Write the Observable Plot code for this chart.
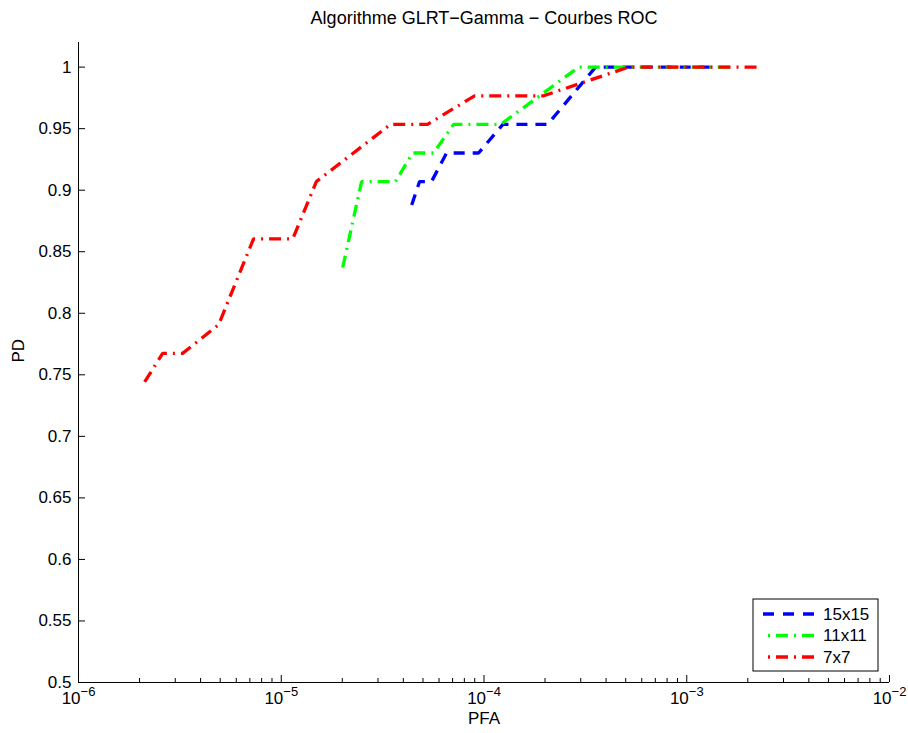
<!DOCTYPE html>
<html><head><meta charset="utf-8">
<script src="https://cdn.jsdelivr.net/npm/d3@7"></script>
<script src="https://cdn.jsdelivr.net/npm/@observablehq/plot@0.6"></script>
<style>
body{margin:0;background:#fff}
svg{font-family:"Liberation Sans",Arial,Helvetica,sans-serif}
</style>
</head><body><div id="chart"></div>
<script>
// ---- data ----
const title = "Algorithme GLRT\u2212Gamma \u2212 Courbes ROC";
const xLabel = "PFA";
const yLabel = "PD";
const seriesNames = ["15x15", "11x11", "7x7"];
const seriesColors = ["#0000ff", "#00ff00", "#ff0000"];

const pfa15 = [4.40e-5, 4.81e-5, 5.51e-5, 6.54e-5, 9.40e-5, 1.24e-4, 2.06e-4, 3.55e-4, 1.39e-3];
const pd15  = [0.888, 0.9070, 0.9070, 0.9302, 0.9302, 0.9535, 0.9535, 1, 1];

const pfa11 = [2.01e-5, 2.49e-5, 3.66e-5, 4.44e-5, 5.64e-5, 7.08e-5, 1.21e-4, 2.93e-4, 1.65e-3];
const pd11  = [0.8372, 0.9070, 0.9070, 0.9302, 0.9302, 0.9535, 0.9535, 1, 1];

const pfa7 = [2.12e-6, 2.60e-6, 3.26e-6, 4.91e-6, 7.30e-6, 1.14e-5, 1.49e-5, 3.46e-5, 5.27e-5, 8.99e-5, 1.97e-4, 5.16e-4, 2.24e-3];
const pd7  = [0.7442, 0.7674, 0.7674, 0.7907, 0.8605, 0.8605, 0.9070, 0.9535, 0.9535, 0.9767, 0.9767, 1, 1];

const xTicks = [1e-6, 1e-5, 1e-4, 1e-3, 1e-2];
const xTickLabels = ["10^-6", "10^-5", "10^-4", "10^-3", "10^-2"];
const yTicks = [0.5, 0.55, 0.6, 0.65, 0.7, 0.75, 0.8, 0.85, 0.9, 0.95, 1];
const yTickLabels = ["0.5", "0.55", "0.6", "0.65", "0.7", "0.75", "0.8", "0.85", "0.9", "0.95", "1"];

// ---- build ----
const toRows = (xs, ys, name) => xs.map((x, i) => ({pfa: x, pd: ys[i], name}));
const d15 = toRows(pfa15, pd15, seriesNames[0]);
const d11 = toRows(pfa11, pd11, seriesNames[1]);
const d7  = toRows(pfa7, pd7, seriesNames[2]);

const minorTicks = [];
for (let e = -6; e < -2; e++) for (let m = 2; m <= 9; m++) minorTicks.push(m * Math.pow(10, e));

const W = 908, H = 733, mL = 78, mR = 19, mT = 42, mB = 51;
const plotW = W - mL - mR, plotH = H - mT - mB;
const FS = 17;
const LW = 3.3;
const dashDot = "12,6,2,6";

const chart = Plot.plot({
  width: W, height: H,
  marginLeft: mL, marginRight: mR, marginTop: mT, marginBottom: mB,
  style: {fontFamily: '"Liberation Sans",Arial,Helvetica,sans-serif', fontSize: FS + "px", background: "white", color: "black", overflow: "visible"},
  x: {type: "log", domain: [1e-6, 1e-2]},
  y: {domain: [0.5, 1.02]},
  marks: [
    Plot.line(d15, {x: "pfa", y: "pd", stroke: seriesColors[0], strokeWidth: LW, strokeDasharray: "11,8", strokeLinecap: "butt", strokeLinejoin: "miter"}),
    Plot.line(d11, {x: "pfa", y: "pd", stroke: seriesColors[1], strokeWidth: LW, strokeDasharray: dashDot, strokeLinecap: "butt", strokeLinejoin: "miter"}),
    Plot.line(d7,  {x: "pfa", y: "pd", stroke: seriesColors[2], strokeWidth: LW, strokeDasharray: dashDot, strokeLinecap: "butt", strokeLinejoin: "miter"}),
    Plot.ruleX([1e-6], {stroke: "black", strokeWidth: 1}),
    Plot.ruleY([0.5], {stroke: "black", strokeWidth: 1}),
    Plot.tickX(xTicks, {x: d => d, insetTop: plotH - 7, stroke: "black"}),
    Plot.tickX(minorTicks, {x: d => d, insetTop: plotH - 4, stroke: "black"}),
    Plot.tickY(yTicks, {y: d => d, insetRight: plotW - 7, stroke: "black"}),
    Plot.axisX({ticks: xTicks, tickSize: 0, tickPadding: 9, label: null, tickFormat: d => xTickLabels[xTicks.indexOf(d)]}),
    Plot.axisY({ticks: yTicks, tickSize: 0, tickPadding: 7, label: null, tickFormat: d => yTickLabels[yTicks.indexOf(d)]}),
    Plot.text([title], {frameAnchor: "top", dy: -24, fontSize: 18, lineAnchor: "middle"}),
    Plot.text([xLabel], {frameAnchor: "bottom", dy: 36, fontSize: FS, lineAnchor: "middle"}),
    Plot.text([yLabel], {frameAnchor: "left", dx: -60, rotate: -90, fontSize: FS, lineAnchor: "middle"})
  ]
});

// superscript exponents on x tick labels
d3.select(chart).selectAll('g[aria-label="x-axis tick label"] text').each(function () {
  const parts = this.textContent.split("^");
  const s = d3.select(this);
  s.text(null);
  s.append("tspan").text(parts[0]);
  s.append("tspan").attr("dy", "-0.55em").attr("font-size", 13).text(parts[1].replace("-", "\u2212"));
});

// legend box (bottom-right, inside the axes)
const svg = d3.select(chart);
const lg = svg.append("g").attr("aria-label", "legend").attr("text-anchor", "start");
const lx = 753, ly = 599, lw = 125, lh = 72;
lg.append("rect").attr("x", lx).attr("y", ly).attr("width", lw).attr("height", lh)
  .attr("fill", "white").attr("stroke", "black").attr("stroke-width", 1);
const dashes = ["11,9", dashDot, dashDot];
const offs = [0, 13, 13];
seriesNames.forEach((n, i) => {
  const yy = ly + 15 + i * 21.5;
  lg.append("line").attr("x1", lx + 10).attr("x2", lx + 65).attr("y1", yy).attr("y2", yy)
    .attr("stroke", seriesColors[i]).attr("stroke-width", LW)
    .attr("stroke-dasharray", dashes[i]).attr("stroke-dashoffset", offs[i]);
  lg.append("text").attr("x", lx + 70).attr("y", yy).attr("dy", "0.35em")
    .attr("text-anchor", "start").attr("font-size", FS).attr("fill", "black").text(n);
});

document.getElementById("chart").appendChild(chart);
</script>
</body></html>
